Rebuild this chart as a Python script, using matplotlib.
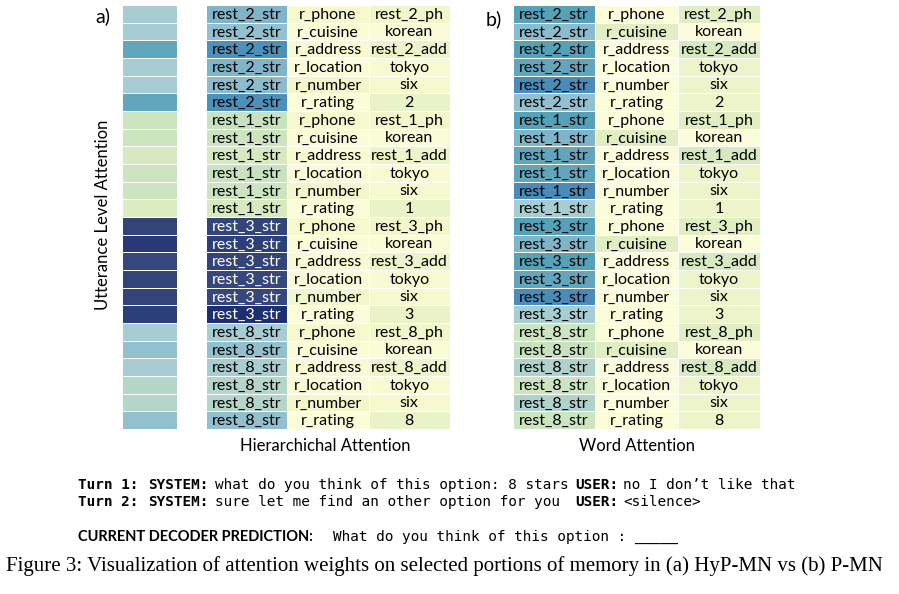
import numpy as np
import matplotlib.pyplot as plt
from matplotlib.colors import LinearSegmentedColormap

W, H = 899, 594
fig = plt.figure(figsize=(W / 100, H / 100), dpi=100)
cmap = LinearSegmentedColormap.from_list("att", [
    (0.0, "#FFFFE6"), (0.1, "#F6F8CC"), (0.25, "#D6E9C0"), (0.35, "#C2DEBE"),
    (0.45, "#A7CDD3"), (0.55, "#80B4C9"), (0.62, "#55A1B8"), (0.7, "#4A8DBA"),
    (0.85, "#3B4D80"), (1.0, "#14246A")])
FONT = "Lato"

rests = ["2", "1", "3", "8"]
attrs = ["r_phone", "r_cuisine", "r_address", "r_location", "r_number", "r_rating"]
vals = ["rest_{}_ph", "korean", "rest_{}_add", "tokyo", "six", "{}"]

col1 = [f"rest_{r}_str" for r in rests for _ in attrs]
col2 = [a for _ in rests for a in attrs]
col3 = [v.format(r) for r in rests for v in vals]

# attention weights (0..1), read by eye
utt_a = [0.45, 0.45, 0.6, 0.45, 0.45, 0.6,
         0.3, 0.3, 0.25, 0.3, 0.3, 0.22,
         0.88, 0.92, 0.87, 0.88, 0.88, 0.9,
         0.45, 0.5, 0.45, 0.4, 0.4, 0.5]
a_c1 = [0.55, 0.5, 0.68, 0.55, 0.52, 0.68,
        0.32, 0.3, 0.25, 0.32, 0.3, 0.25,
        0.88, 0.9, 0.88, 0.87, 0.87, 0.96,
        0.45, 0.5, 0.45, 0.4, 0.4, 0.5]
a_c2 = [0.1, 0.06, 0.08, 0.06, 0.12, 0.05] * 4
a_c3 = [0.12, 0.06, 0.14, 0.08, 0.1, 0.16] * 4
b_c1 = [0.62, 0.52, 0.62, 0.6, 0.7, 0.5,
        0.62, 0.55, 0.6, 0.6, 0.7, 0.45,
        0.62, 0.55, 0.62, 0.6, 0.7, 0.45,
        0.3, 0.32, 0.42, 0.3, 0.42, 0.3]
b_c2 = [0.05, 0.2, 0.05, 0.05, 0.05, 0.05] * 4
b_c3 = [0.2, 0.05, 0.25, 0.14, 0.14, 0.14] * 4


def ax_px(x0, y0, x1, y1):
    ax = fig.add_axes([x0 / W, 1 - y1 / H, (x1 - x0) / W, (y1 - y0) / H])
    ax.set_axis_off()
    return ax


def table(ax, columns, labels):
    data = np.array(columns).T
    n, m = data.shape
    ax.pcolormesh(np.arange(m + 1), np.arange(n + 1), data, cmap=cmap,
                  vmin=0, vmax=1, edgecolor="white", linewidth=0.5)
    ax.set_xlim(0, m)
    ax.set_ylim(n, 0)
    for j, col in enumerate(labels):
        for i, t in enumerate(col):
            c = "white" if data[i, j] > 0.8 else "black"
            ax.text(j + 0.5, i + 0.55, t, ha="center", va="center",
                    fontsize=11.5, family=FONT, color=c)


ax = ax_px(122, 5, 177, 429)
table(ax, [utt_a], [[""] * 24])
ax = ax_px(206, 5, 450, 429)
table(ax, [a_c1, a_c2, a_c3], [col1, col2, col3])
ax = ax_px(513, 5, 760, 429)
table(ax, [b_c1, b_c2, b_c3], [col1, col2, col3])


def t(x, y, s, **kw):
    fig.text(x / W, 1 - y / H, s, **kw)


t(95, 16, "a)", fontsize=14, family=FONT, va="center")
t(486, 19, "b)", fontsize=14, family=FONT, va="center")
t(103, 215, "Utterance Level Attention", fontsize=12, family=FONT,
  rotation=90, ha="center", va="center")
t(325, 446, "Hierarchichal Attention", fontsize=12, family=FONT, ha="center", va="center")
t(637, 446, "Word Attention", fontsize=12, family=FONT, ha="center", va="center")

mono = dict(family="DejaVu Sans Mono", fontsize=10.4, va="center")
bold = dict(mono, weight="bold")
t(78, 485, "Turn 1:", **bold)
t(148, 485, "SYSTEM:", **bold)
t(215, 485, "what do you think of this option: 8 stars", **mono)
t(575, 485, "USER:", **bold)
t(623, 485, "no I don\u2019t like that", **mono)
t(78, 502, "Turn 2:", **bold)
t(148, 502, "SYSTEM:", **bold)
t(215, 502, "sure let me find an other option for you", **mono)
t(575, 502, "USER:", **bold)
t(623, 502, "<silence>", **mono)
t(78, 537, "CURRENT DECODER PREDICTION:", family=FONT, weight="bold",
  fontsize=10.5, va="center")
t(333, 537, "What do you think of this option : _____", **mono)
t(6, 566, "Figure 3: Visualization of attention weights on selected portions of memory "
  "in (a) HyP-MN vs (b) P-MN", family="Liberation Serif", fontsize=15, va="center")

fig.savefig("out.png", dpi=100)
